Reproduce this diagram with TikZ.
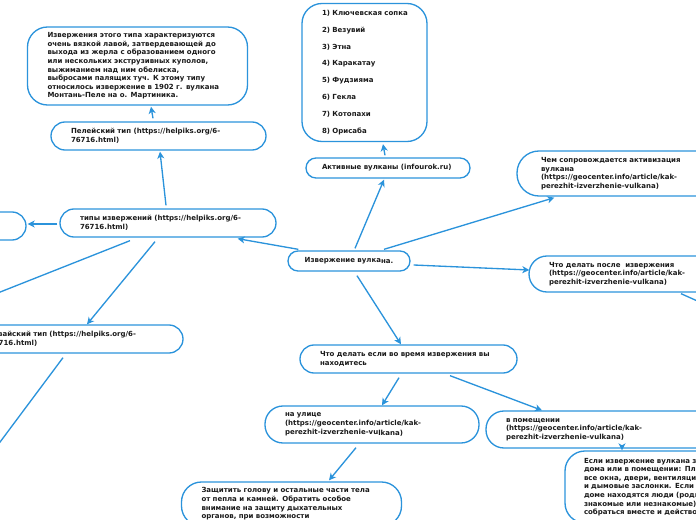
\documentclass[tikz,border=0pt]{standalone}
\usepackage{fontspec}
\setmainfont{DejaVu Sans}
\usetikzlibrary{arrows.meta}
\newdimen\pxu \pxu=0.75pt
\definecolor{lineblue}{HTML}{2B93DB}
\definecolor{txt}{HTML}{1A1A1A}
\tikzset{
  box/.style={draw=lineblue, line width=1pt, rounded corners=#1, align=left,
    inner xsep=20\pxu, inner ysep=0pt, text=txt,
    font=\bfseries\fontsize{7\pxu}{8.6\pxu}\selectfont},
  box/.default=14\pxu,
  conn/.style={draw=lineblue, line width=1pt,
    -{Stealth[length=5.25pt, width=5.25pt, inset=1.5pt]}},
  plain/.style={draw=lineblue, line width=1pt}
}
\begin{document}
\begin{tikzpicture}[x=0.75pt, y=-0.75pt]
\useasboundingbox (0,0) rectangle (696,520);
\clip (0,0) rectangle (696,520);

% nodes
\node[box=20\pxu, minimum width=213\pxu, minimum height=78\pxu, text width=180\pxu] (peledesc) at (137.5,66)
 {Извержения этого типа характеризуются\\очень вязкой лавой, затвердевающей до\\выхода из жерла с образованием одного\\или нескольких экструзивных куполов,\\выжиманием над ним обелиска,\\выбросами палящих туч. К этому типу\\относилось извержение в 1902 г. вулкана\\Монтань-Пеле на о. Мартиника.};
\node[box, minimum width=215\pxu, minimum height=28\pxu, text width=175\pxu] (pele) at (158.5,136)
 {Пелейский тип (https://helpiks.org/6-\\76716.html)};
\node[box=20\pxu, minimum width=125\pxu, minimum height=138\pxu, text width=85\pxu,
      font=\bfseries\fontsize{7\pxu}{16.9\pxu}\selectfont] (list) at (364.5,72.5)
 {1)~Ключевская~сопка\\2) Везувий\\3) Этна\\4) Каракатау\\5) Фудзияма\\6) Гекла\\7) Котопахи\\8) Орисаба};
\node[box=10\pxu, inner xsep=16\pxu, minimum width=164\pxu, minimum height=20\pxu, text width=132\pxu] (active) at (388,168)
 {Активные вулканы (infourok.ru)};
\node[box=22\pxu, inner xsep=24\pxu, minimum width=223\pxu, minimum height=45\pxu, text width=175\pxu] (chem) at (628.5,173.5)
 {Чем сопровождается активизация\\вулкана\\(https://geocenter.info/article/kak-\\perezhit-izverzhenie-vulkana)};
\node[box, minimum width=216\pxu, minimum height=28\pxu, text width=176\pxu] (types) at (168,223)
 {типы извержений (https://helpiks.org/6-\\76716.html)};
\node[box, minimum width=176\pxu, minimum height=28\pxu] (leftbox) at (-62,226) {};
\node[box=10\pxu, align=center, inner xsep=0pt, minimum width=122\pxu, minimum height=20\pxu] (main) at (349,261)
 {Извержение вулка\raisebox{-1\pxu}{на.}};
\node[box=18\pxu, minimum width=211\pxu, minimum height=36\pxu, text width=171\pxu] (after) at (634.5,274)
 {Что делать после\ \ извержения\\(https://geocenter.info/article/kak-\\perezhit-izverzhenie-vulkana)};
\node[box, minimum width=214\pxu, minimum height=28\pxu, text width=174\pxu] (hawai) at (76,339)
 {Гавайский тип (https://helpiks.org/6-\\76716.html)};
\node[box, minimum width=217\pxu, minimum height=28\pxu, text width=177\pxu] (during) at (408.5,359)
 {Что делать если во время извержения вы\\находитесь};
\node[box=18\pxu, minimum width=214\pxu, minimum height=37\pxu, text width=174\pxu] (street) at (372,424.5)
 {на улице\\(https://geocenter.info/article/kak-\\perezhit-izverzhenie-vu\raisebox{-1\pxu}{lkana)}};
\node[box=18\pxu, minimum width=234\pxu, minimum height=37\pxu, text width=194\pxu] (room) at (603,429.5)
 {в помещении\\(https://geocenter.info/article/kak-\\perezhit-izverzhenie-vulkana)};
\node[box=20\pxu, minimum width=213\pxu, minimum height=44\pxu, text width=180\pxu] (protect) at (291.5,504)
 {Защитить голову и остальные части тела\\от пепла и камней. Обратить особое\\внимание на защиту дыхательных\\органов, при возможности};
\node[box=20\pxu, inner xsep=19\pxu, minimum width=215\pxu, minimum height=72\pxu, text width=177\pxu] (ifbox) at (672.5,487)
 {Если извержение вулкана з\\дома или в помещении: Пл\\все окна, двери, вентиляци\\и дымовые заслонки. Если\\доме находятся люди (родн\\знакомые или незнакомые)\\собраться вместе и действо};

% free ends
\coordinate (off1) at (-20,300);
\coordinate (off2) at (-10,455.5);
\coordinate (off3) at (716,309.3);

% connectors
\draw[conn] ([shift={(6,-2)}]main.north) -- ([shift={(-4,1)}]active.south);
\draw[conn] ([shift={(-3,-2)}]active.north) -- ([shift={(18.5,2)}]list.south);
\draw[conn] ([shift={(-5.5,-3)}]pele.north) -- ([shift={(13.5,1)}]peledesc.south);
\draw[conn] ([shift={(-2,-3)}]types.north) -- ([shift={(1.5,1)}]pele.south);
\draw[conn] ([shift={(11,-1)}]main.north west) -- ([shift={(-39,1)}]types.south east);
\draw[conn] ([shift={(35,-1)}]main.north) -- ([shift={(38,1)}]chem.south west);
\draw[conn] ([shift={(3,4)}]main.east) -- ([shift={(1,-4)}]after.west);
\draw[conn] ([shift={(8,4)}]main.south) -- ([shift={(-7.5,0)}]during.north);
\draw[conn] ([shift={(-2,1)}]types.west) -- ([shift={(1,-2)}]leftbox.east);
\draw[plain] ([shift={(-38,3)}]types.south) -- (off1);
\draw[conn] ([shift={(-13,4)}]types.south) -- ([shift={(11,0)}]hawai.north);
\draw[plain] ([shift={(-13,4)}]hawai.south) -- (off2);
\draw[plain] ([shift={(46.5,1)}]after.south) -- (off3);
\draw[conn] ([shift={(-9.5,4)}]during.south) -- ([shift={(10,0)}]street.north);
\draw[conn] ([shift={(41.5,2)}]during.south) -- ([shift={(-61,0)}]room.north);
\draw[conn] ([shift={(-16,4)}]street.south) -- ([shift={(37.5,-1)}]protect.north);
\draw[conn] ([shift={(19,0)}]room.south) -- ([shift={(-50.5,0)}]ifbox.north);
\end{tikzpicture}
\end{document}
